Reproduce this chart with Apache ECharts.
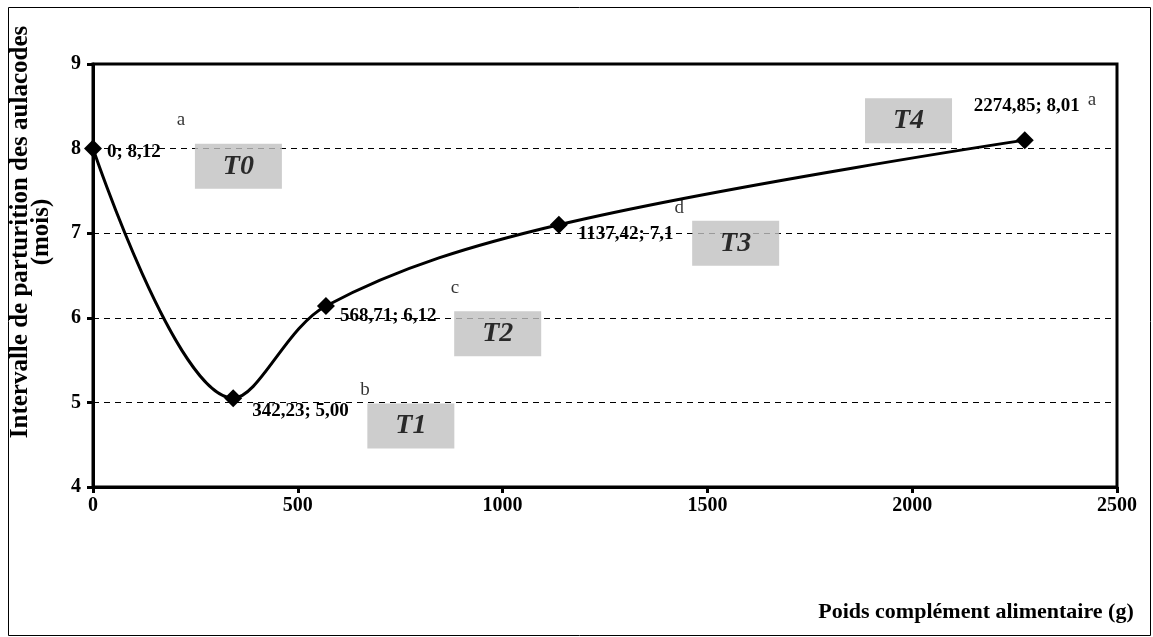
<!DOCTYPE html>
<html>
<head>
<meta charset="utf-8">
<script src="https://cdn.jsdelivr.net/npm/echarts@6/dist/echarts.min.js"></script>
<style>
html,body{margin:0;padding:0;background:#fff;}
#chart{width:1153px;height:637px;}
</style>
</head>
<body>
<div id="chart"></div>
<script>
// Data
const xValues = [0, 342.23, 568.71, 1137.42, 2274.85];
const yValues = [8.0, 5.05, 6.14, 7.1, 8.1];
const pointLabels = ['0; 8,12', '342,23; 5,00', '568,71; 6,12', '1137,42; 7,1', '2274,85; 8,01'];
const groupNames = ['T0', 'T1', 'T2', 'T3', 'T4'];
const groupX = [355, 776, 988, 1569, 1991];
const groupY = [7.79, 4.72, 5.81, 6.88, 8.33];
const letters = ['a', 'b', 'c', 'd', 'a'];
const letterX = [215, 664, 884, 1431, 2439];
const letterY = [8.34, 5.15, 6.35, 7.30, 8.57];
const xTicks = [0, 500, 1000, 1500, 2000, 2500];
const yTicks = [4, 5, 6, 7, 8, 9];

const FONT = '"Liberation Serif", "Times New Roman", serif';
const labelOffsets = [
  {position: 'right', offset: [0, 3]},
  {position: 'right', offset: [5, 13]},
  {position: 'right', offset: [0, 10]},
  {position: 'right', offset: [5, 9]},
  {position: 'top', offset: [2, -11]}
];

const lineData = xValues.map((x, i) => ({
  value: [x, yValues[i]],
  label: Object.assign({
    show: true,
    formatter: pointLabels[i],
    fontFamily: FONT, fontWeight: 'bold', fontSize: 19, color: '#000'
  }, labelOffsets[i])
}));

const boxData = groupNames.map((n, i) => ({name: n, value: [groupX[i], groupY[i]]}));
const letterData = letters.map((l, i) => ({name: l, value: [letterX[i], letterY[i]]}));

const chart = echarts.init(document.getElementById('chart'));
chart.setOption({
  animation: false,
  backgroundColor: '#fff',
  grid: {left: 93, top: 64, width: 1024, height: 423, show: true, borderColor: '#000', borderWidth: 3, backgroundColor: 'transparent'},
  xAxis: {
    type: 'value', min: 0, max: 2500, interval: 500,
    axisLine: {lineStyle: {color: '#000', width: 3}},
    axisTick: {show: true, length: 6, lineStyle: {color: '#000', width: 3}},
    axisLabel: {color: '#000', fontFamily: FONT, fontWeight: 'bold', fontSize: 20, margin: 9,
      formatter: v => xTicks.includes(v) ? String(v) : ''},
    splitLine: {show: false}
  },
  yAxis: {
    type: 'value', min: 4, max: 9, interval: 1,
    axisLine: {show: true, lineStyle: {color: '#000', width: 3}},
    axisTick: {show: true, length: 6, lineStyle: {color: '#000', width: 3}},
    axisLabel: {color: '#000', fontFamily: FONT, fontWeight: 'bold', fontSize: 20, margin: 12,
      formatter: v => yTicks.includes(v) ? String(v) : ''},
    splitLine: {show: true, lineStyle: {color: '#000', width: 1, type: [6, 5]}}
  },
  graphic: [
    {type: 'rect', shape: {x: 8.5, y: 7.5, width: 1142, height: 628}, style: {fill: 'none', stroke: '#000', lineWidth: 1}, silent: true, z: -10},
    {type: 'text', x: 31, y: 232, rotation: Math.PI / 2,
      style: {text: 'Intervalle de parturition des aulacodes\n(mois)', fontFamily: FONT, fontWeight: 'bold', fontSize: 25,
        fill: '#000', textAlign: 'center', textVerticalAlign: 'middle', lineHeight: 21}},
    {type: 'text', x: 976, y: 612,
      style: {text: 'Poids complément alimentaire (g)', fontFamily: FONT, fontWeight: 'bold', fontSize: 22,
        fill: '#000', textAlign: 'center', textVerticalAlign: 'middle'}}
  ],
  series: [
    {
      type: 'scatter', data: boxData, symbol: 'rect', symbolSize: [87, 45], z: 2,
      itemStyle: {color: '#c0c0c0'},
      label: {show: true, position: 'inside', formatter: p => p.name, fontFamily: FONT, fontWeight: 'bold', fontStyle: 'italic', fontSize: 28, color: '#000'}
    },
    {
      type: 'scatter', data: letterData, symbolSize: 0, z: 3,
      label: {show: true, position: 'inside', formatter: p => p.name, fontFamily: FONT, fontSize: 19, color: '#000'}
    },
    {
      type: 'line', data: lineData, smooth: 0.35, z: 4,
      symbol: 'diamond', symbolSize: 18,
      lineStyle: {color: '#000', width: 3},
      itemStyle: {color: '#000'}
    }
  ]
});
</script>
</body>
</html>
